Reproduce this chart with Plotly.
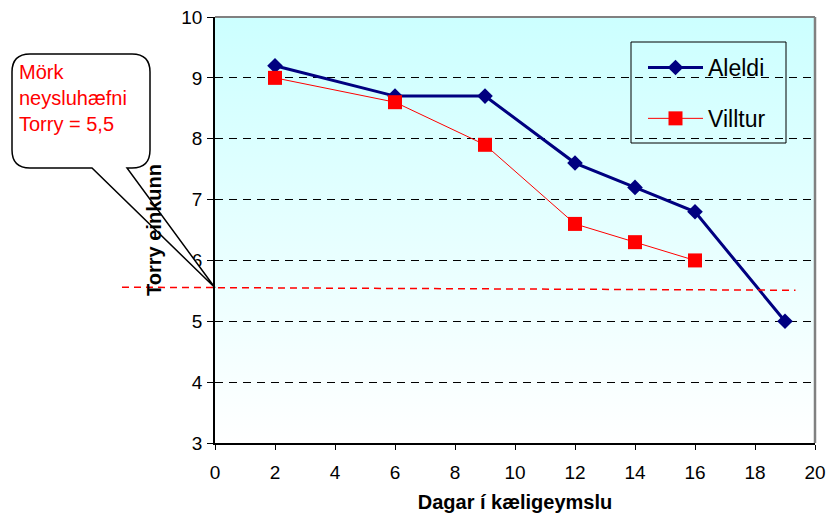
import base64
import plotly.graph_objects as go

# ---------------- data ----------------
days_aleldi = [2, 6, 9, 12, 14, 16, 19]
torry_aleldi = [9.2, 8.7, 8.7, 7.6, 7.2, 6.8, 5.0]

days_villtur = [2, 6, 9, 12, 14, 16]
torry_villtur = [9.0, 8.6, 7.9, 6.6, 6.3, 6.0]

x_tick_vals = [0, 2, 4, 6, 8, 10, 12, 14, 16, 18, 20]
y_tick_vals = [3, 4, 5, 6, 7, 8, 9, 10]

limit_days = [-3.1, 19.35]      # ends of the red limit line (x units)
limit_torry = [5.56, 5.51]      # Torry level at the ends of the line

callout_lines = ["Mörk", "neysluhæfni", "Torry = 5,5"]

x_title = "Dagar í kæligeymslu"
y_title = "Torry einkunn"

# ---------------- layout geometry ----------------
W, H = 827, 522
M_L, M_R, M_T, M_B = 215, 12, 17, 79
PW, PH = W - M_L - M_R, H - M_T - M_B
X_RANGE = [0, 20]
Y_RANGE = [3, 10]
FONT = "Arial, Liberation Sans, sans-serif"


def px2paper(px, py):
    return (px - M_L) / PW, (H - M_B - py) / PH


def data2paper(x, y):
    return ((x - X_RANGE[0]) / (X_RANGE[1] - X_RANGE[0]),
            (y - Y_RANGE[0]) / (Y_RANGE[1] - Y_RANGE[0]))


fig = go.Figure()

fig.add_trace(go.Scatter(
    x=days_aleldi, y=torry_aleldi, name="Aleldi", mode="lines+markers",
    line=dict(color="#000080", width=3),
    marker=dict(symbol="diamond", size=12, color="#000080"),
    legendgroup="a", cliponaxis=False,
))
fig.add_trace(go.Scatter(
    x=days_villtur, y=torry_villtur, name="Villtur", mode="lines+markers",
    line=dict(color="#ff0000", width=1),
    marker=dict(symbol="square", size=14, color="#ff0000"),
    legendgroup="b", cliponaxis=False,
))

# gradient background of the plot area
svg = ("<svg xmlns='http://www.w3.org/2000/svg' width='10' height='100' preserveAspectRatio='none'>"
       "<defs><linearGradient id='g' x1='0' y1='0' x2='0' y2='1'>"
       "<stop offset='0' stop-color='#ccffff'/><stop offset='1' stop-color='#ffffff'/>"
       "</linearGradient></defs><rect width='10' height='100' fill='url(#g)'/></svg>")
svg_uri = "data:image/svg+xml;base64," + base64.b64encode(svg.encode()).decode()

shapes = []
# top and right border (gray)
shapes.append(dict(type="line", xref="paper", yref="paper", x0=0, x1=1, y0=1, y1=1,
                   line=dict(color="#808080", width=2), layer="above"))
shapes.append(dict(type="line", xref="paper", yref="paper", x0=1, x1=1, y0=0, y1=1,
                   line=dict(color="#808080", width=2.5), layer="above"))

# legend frame
fx0, fy0 = px2paper(631, 143)
fx1, fy1 = px2paper(786, 42)
shapes.append(dict(type="rect", xref="paper", yref="paper", x0=fx0, y0=fy0, x1=fx1, y1=fy1,
                   line=dict(color="black", width=1), fillcolor="rgba(0,0,0,0)", layer="above"))

# callout bubble
bl, br, bt, bb, r = 12, 150, 54, 168, 18
tip = data2paper(0, 5.55)
tip_px = (M_L + tip[0] * PW, H - M_B - tip[1] * PH)
pts = [
    ("M", (bl + r, bt)), ("L", (br - r, bt)), ("Q", (br, bt), (br, bt + r)),
    ("L", (br, bb - r)), ("Q", (br, bb), (br - r, bb)),
    ("L", (127, bb)), ("L", tip_px), ("L", (92, bb)),
    ("L", (bl + r, bb)), ("Q", (bl, bb), (bl, bb - r)),
    ("L", (bl, bt + r)), ("Q", (bl, bt), (bl + r, bt)),
]
path = ""
for cmd, *coords in pts:
    path += cmd + " ".join("%.5f,%.5f" % px2paper(*c) for c in coords) + " "
path += "Z"
shapes.append(dict(type="path", xref="paper", yref="paper", path=path,
                   fillcolor="white", line=dict(color="black", width=1.5), layer="above"))

# red limit line
lx0, ly0 = data2paper(limit_days[0], limit_torry[0])
lx1, ly1 = data2paper(limit_days[1], limit_torry[1])
shapes.append(dict(type="line", xref="paper", yref="paper", x0=lx0, y0=ly0, x1=lx1, y1=ly1,
                   line=dict(color="#ff0000", width=1.5, dash="7px,5px"), layer="above"))

ax, ay = px2paper(17, 98)
annotations = [dict(
    xref="paper", yref="paper", x=ax, y=ay, xanchor="left", yanchor="middle",
    text="<br>".join(callout_lines), showarrow=False, align="left",
    font=dict(family=FONT, size=20, color="#ff0000"),
)]

lgx, lgy = px2paper(643, 46)

fig.update_layout(
    width=W, height=H, autosize=False,
    margin=dict(l=M_L, r=M_R, t=M_T, b=M_B, pad=0, autoexpand=False),
    paper_bgcolor="white", plot_bgcolor="rgba(0,0,0,0)",
    font=dict(family=FONT, color="black"),
    showlegend=True,
    legend=dict(x=lgx, y=lgy, xanchor="left", yanchor="top",
                bgcolor="rgba(0,0,0,0)", borderwidth=0,
                font=dict(family=FONT, size=23, color="black"),
                itemwidth=55, traceorder="grouped", tracegroupgap=18),
    images=[dict(source=svg_uri, xref="paper", yref="paper", x=0, y=1, sizex=1, sizey=1,
                 xanchor="left", yanchor="top", sizing="stretch", layer="below")],
    shapes=shapes,
    annotations=annotations,
    xaxis=dict(range=X_RANGE, tickvals=x_tick_vals, showgrid=False, zeroline=False,
               automargin=False,
               showline=True, linecolor="black", linewidth=1.5, ticks="outside",
               ticklen=5, tickcolor="black", tickfont=dict(family=FONT, size=19),
               ticklabelstandoff=6,
               title=dict(text="<b>%s</b>" % x_title, font=dict(family=FONT, size=20), standoff=13)),
    yaxis=dict(range=Y_RANGE, tickvals=y_tick_vals, showgrid=True, gridcolor="black",
               automargin=False,
               gridwidth=1, griddash="8px,6px", zeroline=False,
               showline=True, linecolor="black", linewidth=1.5, ticks="outside",
               ticklen=6, tickcolor="black", tickfont=dict(family=FONT, size=19),
               ticklabelstandoff=1,
               title=dict(text="<b>%s</b>" % y_title, font=dict(family=FONT, size=20), standoff=14)),
)

fig.write_html("out.html", config={"displayModeBar": False},
               post_script="document.body.style.margin='0';")
